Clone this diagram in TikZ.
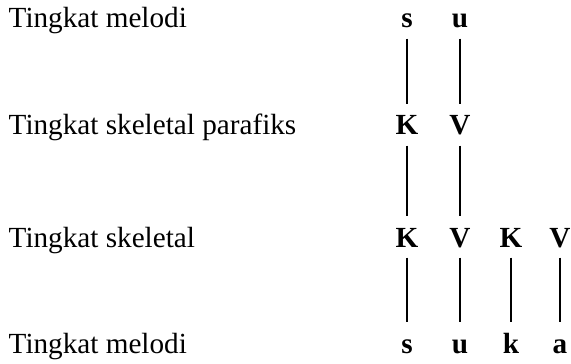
\documentclass[tikz,border=0pt]{standalone}
\usepackage{fontspec}
\setmainfont{Liberation Serif}

\begin{document}
\begin{tikzpicture}[x=0.5pt,y=-0.5pt,line width=0.7pt,font=\fontsize{14.6}{17}\selectfont,
    lvl/.style={anchor=base west,inner sep=0pt},
    seg/.style={anchor=base,font=\fontsize{14.6}{17}\selectfont\bfseries,inner xsep=0pt,inner ysep=5pt,text height=10pt,text depth=0pt}]
    \useasboundingbox (0,0) rectangle (571,363);

    \node[lvl] (mel1) at (8,28) {Tingkat melodi};
    \node[lvl] (skp) at (8,135) {Tingkat skeletal parafiks};
    \node[lvl] (sk) at (8,247) {Tingkat skeletal};
    \node[lvl] (mel2) at (8,353) {Tingkat melodi};

    \node[seg] (s1) at (407,28) {s};
    \node[seg] (u1) at (460,28) {u};

    \node[seg] (K1) at (407,135) {K};
    \node[seg] (V1) at (460,135) {V};

    \node[seg] (K2) at (407,247) {K};
    \node[seg] (V2) at (460,247) {V};
    \node[seg] (K3) at (511,247) {K};
    \node[seg] (V3) at (560,247) {V};

    \node[seg] (s2) at (407,353) {s};
    \node[seg] (u2) at (460,353) {u};
    \node[seg] (k2) at (511,353) {k};
    \node[seg] (a2) at (560,353) {a};

	\draw (s1) -- (K1);
	\draw (u1) -- (V1);

	\draw (K1) -- (K2);
	\draw (V1) -- (V2);

	\draw (K2) -- (s2);
	\draw (V2) -- (u2);
	\draw (K3) -- (k2);
	\draw (V3) -- (a2);
\end{tikzpicture}
\end{document}
